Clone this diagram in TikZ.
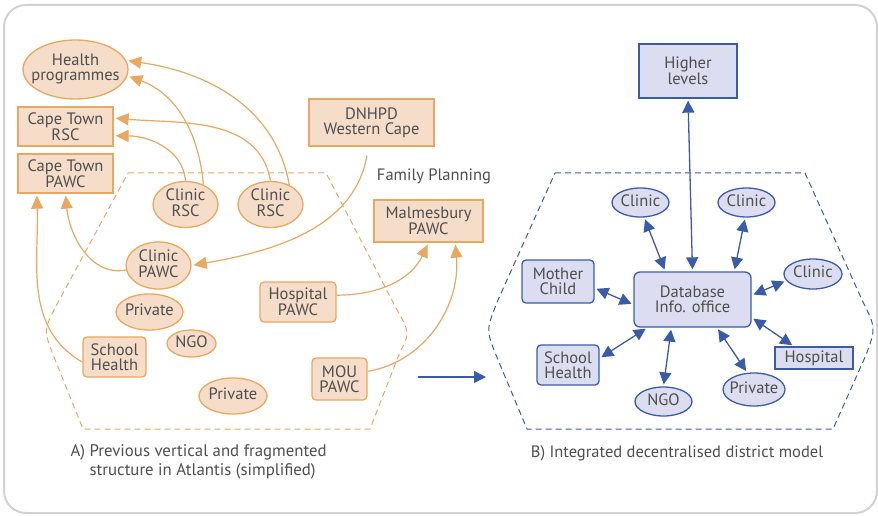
\documentclass[tikz,border=0pt]{standalone}
\usepackage{fontspec}
\setmainfont{PT Sans}
\usetikzlibrary{shapes.geometric,arrows.meta,positioning,calc}
\definecolor{ornline}{RGB}{232,168,98}
\definecolor{ornfill}{RGB}{246,221,202}
\definecolor{blline}{RGB}{58,92,168}
\definecolor{blfill}{RGB}{220,221,240}
\definecolor{txt}{RGB}{78,78,78}
\definecolor{framegray}{RGB}{210,210,210}
\newcommand{\nw}[1]{\makebox[0pt]{\begin{tabular}{@{}c@{}}#1\end{tabular}}}

\begin{document}
\begin{tikzpicture}[x=1pt, y=1pt, semithick, font=\fontsize{16.5}{15}\selectfont]
\tikzstyle{box}=[rectangle, inner sep=0pt, align=center, text=txt, line width=1.3pt]
\tikzstyle{oval}=[ellipse, inner sep=0pt, text=txt, line width=1.3pt]
\tikzstyle{old}=[draw=ornline, fill=ornfill]
\tikzstyle{new}=[draw=blline, fill=blfill]
\tikzstyle{oldarrow}=[-{Triangle[length=13pt,width=12pt]}, color=ornline, line width=1.2pt, shorten >=2pt]
\tikzstyle{newarrow}=[{Triangle[length=12pt,width=12pt]}-{Triangle[length=12pt,width=12pt]}, color=blline, line width=1.3pt, shorten >=2pt, shorten <=2pt]
\tikzstyle{hull}=[dash pattern=on 6pt off 4pt, line width=1pt]

\useasboundingbox (0,0) rectangle (878,515);
\draw[framegray, line width=2pt, rounded corners=22pt] (4,2) rectangle (877,510);

% A) old structure
\draw[hull, ornline] (128,342) -- (326,342) -- (396,207) .. controls (410,182) .. (400,163) -- (370,86) -- (83,86) -- (52,163) .. controls (44,185) .. (55,207) -- cycle;

\node[oval, old, minimum width=105pt, minimum height=59pt] (health) at (75.5,445.5) {\nw{Health\\programmes}};
\node[box, old, minimum width=95pt, minimum height=39pt] (ctrsc) at (65.5,388.5) {Cape Town\\RSC};
\node[box, old, minimum width=95pt, minimum height=39pt] (ctpawc) at (65.5,341.5) {Cape Town\\PAWC};
\node[box, old, minimum width=125pt, minimum height=47pt] (dnhpd) at (371.5,392.5) {DNHPD\\Western Cape};
\node[oval, old, minimum width=65pt, minimum height=45pt] (rscone) at (185.5,310.5) {\nw{Clinic\\RSC}};
\node[oval, old, minimum width=65pt, minimum height=45pt] (rsctwo) at (270.5,310.5) {\nw{Clinic\\RSC}};
\node[text=txt] (famplan) at (434,339) {Family Planning};
\node[box, old, minimum width=109pt, minimum height=42pt] (malm) at (428.5,294) {Malmesbury\\PAWC};
\node[oval, old, minimum width=65pt, minimum height=47pt] (clinpawc) at (158.5,249.5) {\nw{Clinic\\PAWC}};
\node[oval, old, minimum width=67pt, minimum height=36pt] (privone) at (149.5,203) {\nw{Private}};
\node[oval, old, minimum width=49pt, minimum height=27pt] (ngo) at (191.5,171.5) {\nw{NGO}};
\node[box, old, rounded corners=4pt, minimum width=63pt, minimum height=40pt] (school) at (114.5,158) {School\\Health};
\node[oval, old, minimum width=68pt, minimum height=36pt] (privtwo) at (233,119) {\nw{Private}};
\node[box, old, rounded corners=4pt, minimum width=76pt, minimum height=40pt] (hosp) at (298,213) {Hospital\\PAWC};
\node[box, old, rounded corners=4pt, minimum width=55pt, minimum height=42pt] (mou) at (339.5,136) {MOU\\PAWC};
\node[text=txt, align=left, anchor=west, font=\fontsize{16.8}{19}\selectfont] (capA) at (67,53.5) {A) Previous vertical and fragmented\\\phantom{A) }structure in Atlantis (simplified)};

\path[oldarrow]
(rsctwo.46)    edge[out=100, in=-8]   (health.10)
(rscone.48)    edge[out=95, in=-20]   (health.-7)
(rsctwo.north) edge[out=100, in=-5]   (ctrsc.10)
(rscone.north) edge[out=95, in=0]     (ctrsc.-11)
(dnhpd.-97)    edge[out=-100, in=10, shorten <=9pt] (clinpawc.east)
(clinpawc.188) edge[out=190, in=-85]  (ctpawc.south)
(school.189)   edge[out=150, in=-88]  (ctpawc.215)
(hosp.10)      edge[out=0, in=-115]   (malm.south)
(mou.15)       edge[out=10, in=-85]   (malm.-39);

% B) integrated model
\draw[hull, blline] (555,342) -- (805,342) -- (862,215) .. controls (876,187) .. (866,160) -- (833,86) -- (527,86) -- (496,160) .. controls (486,185) .. (498,215) -- cycle;

\node[box, new, minimum width=98pt, minimum height=54pt] (higher) at (688,444) {Higher\\levels};
\node[box, new, rounded corners=6pt, minimum width=117pt, minimum height=55pt] (db) at (692.5,215.5) {Database\\Info. office};
\node[oval, new, minimum width=57pt, minimum height=29pt] (bclinone) at (640.5,312.5) {\nw{Clinic}};
\node[oval, new, minimum width=57pt, minimum height=29pt] (bclintwo) at (746.5,312.5) {\nw{Clinic}};
\node[oval, new, minimum width=58pt, minimum height=30pt] (bclinthree) at (813,241) {\nw{Clinic}};
\node[box, new, rounded corners=4pt, minimum width=72pt, minimum height=43pt] (mother) at (558,233.5) {Mother\\Child};
\node[box, new, rounded corners=4pt, minimum width=62pt, minimum height=40pt] (bschool) at (568,150) {School\\Health};
\node[box, new, minimum width=78pt, minimum height=22pt] (bhosp) at (814,157) {Hospital};
\node[oval, new, minimum width=57pt, minimum height=29pt] (bngo) at (663.5,113.5) {\nw{NGO}};
\node[oval, new, minimum width=62pt, minimum height=33pt] (bpriv) at (754,125.5) {\nw{Private}};
\node[text=txt] (capB) at (677,62) {B) Integrated decentralised district model};

\path[newarrow]
(db.north) edge (higher.south)
(db.134)   edge (bclinone.-76)
(db.34)    edge (bclintwo.-95)
(db.4)     edge (bclinthree.194)
(db.185)   edge (mother.-10)
(db.212)   edge (bschool.12)
(db.233)   edge (bngo.north)
(db.-49)   edge (bpriv.112)
(db.-17)   edge (bhosp.150);

\coordinate (gapl) at (418,138);
\coordinate (gapr) at (486,138);
\draw[-{Triangle[length=12pt,width=12pt]}, blline, line width=1.3pt] (gapl) -- (gapr);
\end{tikzpicture}
\end{document}
